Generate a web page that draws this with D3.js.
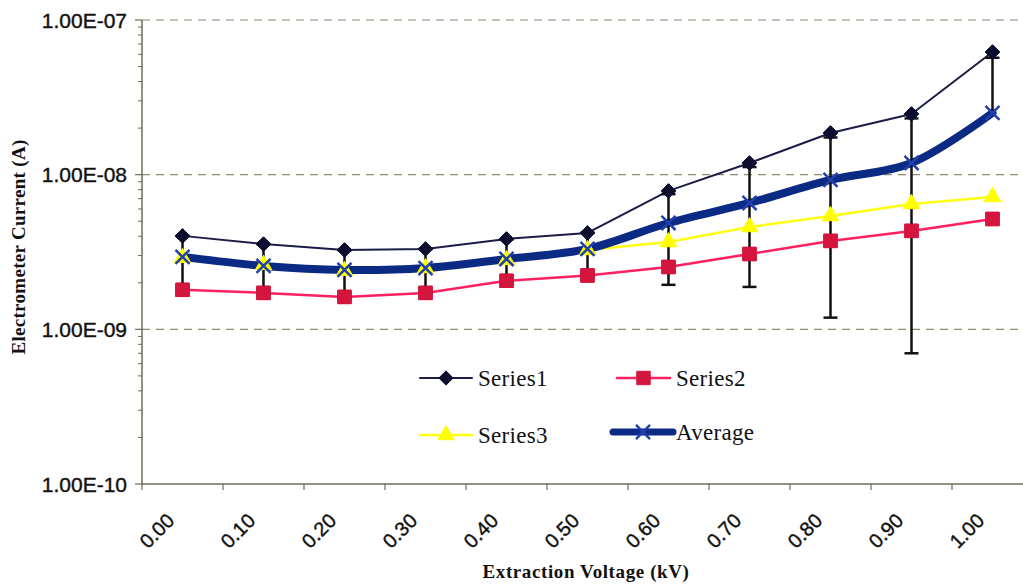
<!DOCTYPE html>
<html><head><meta charset="utf-8">
<script src="https://cdn.jsdelivr.net/npm/d3@7"></script>
<style>html,body{margin:0;padding:0;background:#fff;}svg{display:block;}</style>
</head><body>
<svg id="chart" width="1023" height="585"></svg>
<script>
const categories = ["0.00","0.10","0.20","0.30","0.40","0.50","0.60","0.70","0.80","0.90","1.00"];
const series1 = [4.02e-9,3.56e-9,3.26e-9,3.31e-9,3.84e-9,4.2e-9,7.85e-9,1.19e-8,1.86e-8,2.47e-8,6.21e-8];
const series2 = [1.80e-9,1.72e-9,1.62e-9,1.72e-9,2.06e-9,2.23e-9,2.53e-9,3.07e-9,3.73e-9,4.33e-9,5.17e-9];
const series3 = [2.90e-9,2.61e-9,2.39e-9,2.49e-9,2.81e-9,3.26e-9,3.67e-9,4.59e-9,5.41e-9,6.47e-9,7.18e-9];
const average = [2.94e-9,2.57e-9,2.42e-9,2.49e-9,2.85e-9,3.31e-9,4.87e-9,6.56e-9,9.24e-9,1.19e-8,2.51e-8];
const errHigh = [4.02e-9,3.55e-9,3.24e-9,3.30e-9,3.8e-9,4.22e-9,7.48e-9,1.12e-8,1.74e-8,2.31e-8,5.7e-8];
const errLow  = [1.80e-9,1.71e-9,1.60e-9,1.71e-9,2.0e-9,2.23e-9,1.94e-9,1.88e-9,1.19e-9,7.0e-10,null];
const yTickValues = [1e-10,1e-9,1e-8,1e-7];
const yTickLabels = ["1.00E-10","1.00E-09","1.00E-08","1.00E-07"];
const seriesNames = ["Series1","Series2","Series3","Average"];

(function(){
const svg = d3.select("#chart");
const pLeft = 142, pRight = 1033, pTop = 20, pBottom = 484;
const x = d3.scaleBand().domain(categories).range([pLeft, pRight]).padding(0);
const cx = c => x(c) + x.bandwidth()/2;
const y = d3.scaleLog().domain([1e-10,1e-7]).range([pBottom, pTop]);

// gridlines
svg.append("g").selectAll("line").data(yTickValues.filter(v => v > 1e-10)).join("line")
  .attr("x1", pLeft).attr("x2", pRight).attr("y1", d => y(d)).attr("y2", d => y(d))
  .attr("stroke", "#8c8a72").attr("stroke-width", 1.2).attr("stroke-dasharray", "8,6");

// y axis
const axisColor = "#6e6c58";
svg.append("line").attr("x1", pLeft).attr("x2", pLeft).attr("y1", pTop).attr("y2", pBottom)
  .attr("stroke", axisColor).attr("stroke-width", 1.5);
const minor = [];
for (let e = -10; e < -7; e++) for (let m = 2; m <= 9; m++) minor.push(m * Math.pow(10, e));
svg.append("g").selectAll("line").data(minor).join("line")
  .attr("x1", pLeft - 4).attr("x2", pLeft).attr("y1", d => y(d)).attr("y2", d => y(d))
  .attr("stroke", axisColor).attr("stroke-width", 1);
svg.append("g").selectAll("line").data(yTickValues).join("line")
  .attr("x1", pLeft - 7).attr("x2", pLeft).attr("y1", d => y(d)).attr("y2", d => y(d))
  .attr("stroke", axisColor).attr("stroke-width", 1.2);
svg.append("g").selectAll("text").data(yTickValues).join("text")
  .attr("x", 127).attr("y", d => y(d)).attr("dy", "0.36em").attr("text-anchor", "end")
  .attr("font-family", "Liberation Sans, Arial, sans-serif").attr("font-size", 21)
  .attr("fill", "#111").attr("stroke", "#111").attr("stroke-width", 0.4)
  .text((d, i) => yTickLabels[i]);

// x axis
svg.append("line").attr("x1", pLeft).attr("x2", pRight).attr("y1", pBottom).attr("y2", pBottom)
  .attr("stroke", axisColor).attr("stroke-width", 1.5);
const edges = categories.map(c => x(c)).concat([pRight]);
svg.append("g").selectAll("line").data(edges).join("line")
  .attr("x1", d => d).attr("x2", d => d).attr("y1", pBottom).attr("y2", pBottom + 6)
  .attr("stroke", axisColor).attr("stroke-width", 1.2);
svg.append("g").selectAll("text").data(categories).join("text")
  .attr("transform", d => `translate(${cx(d) - 7},${pBottom + 38}) rotate(-45)`)
  .attr("text-anchor", "end")
  .attr("font-family", "Liberation Sans, Arial, sans-serif").attr("font-size", 20)
  .attr("fill", "#111").attr("stroke", "#111").attr("stroke-width", 0.4)
  .text(d => d);

// axis titles
svg.append("text").attr("transform", "translate(25,247) rotate(-90)").attr("text-anchor", "middle")
  .attr("font-family", "Liberation Serif, Times New Roman, serif").attr("font-weight", "bold")
  .attr("font-size", 19).attr("letter-spacing", 0.3).attr("fill", "#111").text("Electrometer Current (A)");
svg.append("text").attr("x", 586).attr("y", 578).attr("text-anchor", "middle")
  .attr("font-family", "Liberation Serif, Times New Roman, serif").attr("font-weight", "bold")
  .attr("font-size", 19).attr("letter-spacing", 0.6).attr("fill", "#111").text("Extraction Voltage (kV)");

const line = d3.line().x((d, i) => cx(categories[i])).y(d => y(d));
const smoothLine = d3.line().x((d, i) => cx(categories[i])).y(d => y(d)).curve(d3.curveCatmullRom.alpha(0.5));

const sym = {
  diamond: d3.symbol().type(d3.symbolDiamond2).size(130),
  square: d3.symbol().type(d3.symbolSquare).size(180),
  triangle: d3.symbol().type(d3.symbolTriangle).size(115),
  cross: d3.symbol().type(d3.symbolX).size(130)
};
const styles = [
  {data: series1, stroke: "#1c1c48", width: 2, sym: "diamond", fill: "#0d0d30"},
  {data: series2, stroke: "#ff2060", width: 2.5, sym: "square", fill: "#d4163f"},
  {data: series3, stroke: "#ffff10", width: 2.5, sym: "triangle", fill: "#ffff00"},
  {data: average, stroke: "#0b2a84", width: 8, sym: "cross", fill: "none"}
];

function drawMarkers(s) {
  const g = svg.append("g");
  g.selectAll("path").data(s.data).join("path")
    .attr("transform", (d, i) => `translate(${cx(categories[i])},${y(d)})`)
    .attr("d", sym[s.sym]())
    .attr("fill", s.sym === "cross" ? "none" : s.fill)
    .attr("stroke", s.sym === "cross" ? "#2040b0" : s.fill)
    .attr("stroke-width", s.sym === "cross" ? 2.5 : 1)
    .attr("stroke-linejoin", "round");
}

styles.slice(0, 3).forEach(s => {
  svg.append("path").datum(s.data).attr("d", line).attr("fill", "none")
    .attr("stroke", s.stroke).attr("stroke-width", s.width).attr("stroke-linejoin", "round");
  drawMarkers(s);
});

const avg = styles[3];
svg.append("path").datum(average).attr("d", smoothLine).attr("fill", "none")
  .attr("stroke", avg.stroke).attr("stroke-width", avg.width).attr("stroke-linejoin", "round")
  .attr("stroke-linecap", "round");

// error bars
const eg = svg.append("g").attr("stroke", "#111").attr("stroke-width", 2.5);
categories.forEach((c, i) => {
  const xc = cx(c);
  const yTop = y(errHigh[i]);
  const yBot = errLow[i] == null ? y(average[i]) : y(errLow[i]);
  eg.append("line").attr("x1", xc).attr("x2", xc).attr("y1", yTop).attr("y2", yBot);
  eg.append("line").attr("x1", xc - 7).attr("x2", xc + 7).attr("y1", yTop).attr("y2", yTop);
  if (errLow[i] != null)
    eg.append("line").attr("x1", xc - 7).attr("x2", xc + 7).attr("y1", yBot).attr("y2", yBot);
});

styles.slice(0, 3).forEach(drawMarkers);
drawMarkers(avg);

// legend
const legendItems = [
  {name: seriesNames[0], s: styles[0], x0: 420, x1: 472, ty: 378, tx: 478},
  {name: seriesNames[1], s: styles[1], x0: 617, x1: 670, ty: 378, tx: 676},
  {name: seriesNames[2], s: styles[2], x0: 420, x1: 472, ty: 435, tx: 478},
  {name: seriesNames[3], s: styles[3], x0: 613, x1: 673, ty: 432, tx: 676}
];
const lg = svg.append("g");
legendItems.forEach(it => {
  lg.append("line").attr("x1", it.x0).attr("x2", it.x1).attr("y1", it.ty).attr("y2", it.ty)
    .attr("stroke", it.s.stroke).attr("stroke-width", it.s.sym === "cross" ? 7 : it.s.width)
    .attr("stroke-linecap", "round");
  lg.append("path").attr("transform", `translate(${(it.x0 + it.x1) / 2},${it.ty})`)
    .attr("d", sym[it.s.sym]())
    .attr("fill", it.s.sym === "cross" ? "none" : it.s.fill)
    .attr("stroke", it.s.sym === "cross" ? "#2040b0" : it.s.fill)
    .attr("stroke-width", it.s.sym === "cross" ? 2.5 : 1);
  lg.append("text").attr("x", it.tx).attr("y", it.ty).attr("dy", "0.35em")
    .attr("font-family", "Liberation Serif, Times New Roman, serif").attr("font-size", 23)
    .attr("letter-spacing", 0.3).attr("fill", "#111").text(it.name);
});
})();
</script>
</body></html>
